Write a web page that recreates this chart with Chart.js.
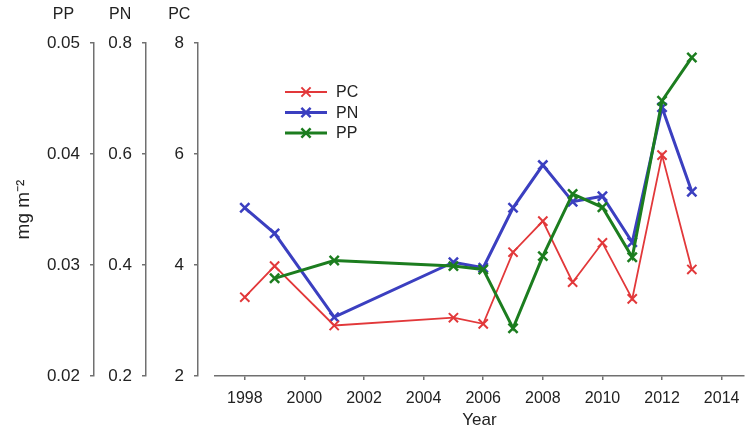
<!DOCTYPE html>
<html>
<head>
  <title>PC, PN and PP by year</title>
  <style>
    body { margin: 0; background: #fff; }
    #wrap { width: 753px; height: 435px; }
  </style>
</head>
<body>
  <div id="wrap"><canvas id="canvas"></canvas></div>
  <script src="https://cdn.jsdelivr.net/npm/chart.js"></script>
  <script>
    const canvas = document.getElementById('canvas');
    const ctx = canvas.getContext('2d');

    // values
    const years = [1998, 1999, 2001, 2005, 2006, 2007, 2008, 2009, 2010, 2011, 2012, 2013];
    const pcValues = [3.42, 3.98, 2.91, 3.05, 2.94, 4.23, 4.79, 3.69, 4.40, 3.39, 5.98, 3.92];
    const pnValues = [0.503, 0.457, 0.306, 0.405, 0.395, 0.503, 0.580, 0.514, 0.524, 0.441, 0.684, 0.532];
    const ppValues = [null, 0.0288, 0.0304, 0.0299, 0.0296, 0.0243, 0.0308, 0.0364, 0.0352, 0.0307, 0.0448, 0.0487];

    const yearTicks = [1998, 2000, 2002, 2004, 2006, 2008, 2010, 2012, 2014];
    const pcTicks = [2, 4, 6, 8];
    const pnTicks = [0.2, 0.4, 0.6, 0.8];
    const ppTicks = [0.02, 0.03, 0.04, 0.05];

    const FONT = '"Liberation Sans", Arial, sans-serif';
    const AXIS = '#707070';
    const TEXT = '#222';

    const toPoints = vals => years.map((yr, i) => ({ x: yr, y: vals[i] }));

    // y axes all share the same look, only range and width differ
    function yAxis(weight, ticks, fmt, width) {
      return {
        type: 'linear',
        position: 'left',
        weight: weight,
        min: ticks[0],
        max: ticks[ticks.length - 1],
        afterBuildTicks: s => { s.ticks = ticks.map(v => ({ value: v })); },
        afterFit: s => { s.width = width; },
        grid: { drawOnChartArea: false, tickLength: 4, color: AXIS, lineWidth: 1.5 },
        border: { color: AXIS, width: 1.5 },
        ticks: { font: { family: FONT, size: 17 }, color: TEXT, padding: 10, callback: fmt }
      };
    }

    const axisCaps = { yPP: 'PP', yPN: 'PN', yPC: 'PC' };

    // axis names on top + legend inside the plot
    const extras = {
      id: 'extras',
      afterDraw(chart) {
        const c = chart.ctx;
        c.save();
        c.textBaseline = 'middle';
        c.fillStyle = TEXT;
        c.textAlign = 'center';
        Object.keys(axisCaps).forEach(id => {
          const s = chart.scales[id];
          c.font = '17px ' + FONT;
          const w = Math.max(...s.ticks.map(t => c.measureText(t.label).width));
          c.font = '16px ' + FONT;
          c.fillText(axisCaps[id], s.right - 14 - w / 2, 15);
        });

        const a = chart.chartArea;
        c.textAlign = 'left';
        c.font = '16px ' + FONT;
        chart.data.datasets.forEach((ds, i) => {
          const y = a.top + 49 + i * 20.5;
          const x0 = a.left + 70;
          c.strokeStyle = ds.borderColor;
          c.lineWidth = ds.borderWidth;
          c.beginPath();
          c.moveTo(x0, y);
          c.lineTo(x0 + 42, y);
          c.stroke();
          const r = ds.pointRadius * Math.SQRT1_2;
          c.lineWidth = ds.pointBorderWidth;
          c.beginPath();
          c.moveTo(x0 + 21 - r, y - r);
          c.lineTo(x0 + 21 + r, y + r);
          c.moveTo(x0 + 21 - r, y + r);
          c.lineTo(x0 + 21 + r, y - r);
          c.stroke();
          c.fillStyle = TEXT;
          c.fillText(ds.label, x0 + 51, y + 1);
        });
        c.restore();
      }
    };

    const chart = new Chart(ctx, {
      type: 'line',
      data: {
        datasets: [
          {
            label: 'PC', data: toPoints(pcValues), yAxisID: 'yPC',
            borderColor: '#e2383a', backgroundColor: '#e2383a', borderWidth: 1.8,
            pointStyle: 'crossRot', pointRadius: 6.5, pointBorderWidth: 2, order: 1
          },
          {
            label: 'PN', data: toPoints(pnValues), yAxisID: 'yPN',
            borderColor: '#3b3fc0', backgroundColor: '#3b3fc0', borderWidth: 3,
            pointStyle: 'crossRot', pointRadius: 6.5, pointBorderWidth: 2.5, order: 2
          },
          {
            label: 'PP', data: toPoints(ppValues), yAxisID: 'yPP',
            borderColor: '#1c7d1f', backgroundColor: '#1c7d1f', borderWidth: 3,
            pointStyle: 'crossRot', pointRadius: 6.5, pointBorderWidth: 2.5, order: 0
          }
        ]
      },
      options: {
        responsive: true,
        maintainAspectRatio: false,
        animation: false,
        layout: { padding: { top: 43, left: 0, right: 0, bottom: 0 } },
        plugins: { legend: { display: false }, tooltip: { enabled: false } },
        scales: {
          x: {
            type: 'linear',
            position: 'bottom',
            min: 1997,
            max: 2014.75,
            afterBuildTicks: s => { s.ticks = yearTicks.map(v => ({ value: v })); },
            afterFit: s => { s.height = 59; },
            grid: { drawOnChartArea: false, tickLength: 4, color: AXIS, lineWidth: 1.5 },
            border: { color: AXIS, width: 1.5 },
            ticks: { font: { family: FONT, size: 16 }, color: TEXT, padding: 9, maxRotation: 0, autoSkip: false, callback: v => String(v) },
            title: { display: true, text: 'Year', font: { family: FONT, size: 17 }, color: TEXT, padding: { top: 0, bottom: 4 } }
          },
          ySpace: {
            type: 'linear', position: 'left', weight: 0, display: true,
            grid: { display: false }, border: { display: false }, ticks: { display: false },
            afterFit: s => { s.width = 17; }
          },
          yPC: yAxis(1, pcTicks, v => String(v), 52),
          yPN: yAxis(2, pnTicks, v => v.toFixed(1), 52),
          yPP: Object.assign(yAxis(3, ppTicks, v => v.toFixed(2), 94), {
            title: { display: true, text: 'mg m⁻²', font: { family: FONT, size: 19 }, color: TEXT, padding: { top: 12, bottom: 0 } }
          })
        }
      },
      plugins: [extras]
    });
  </script>
</body>
</html>
